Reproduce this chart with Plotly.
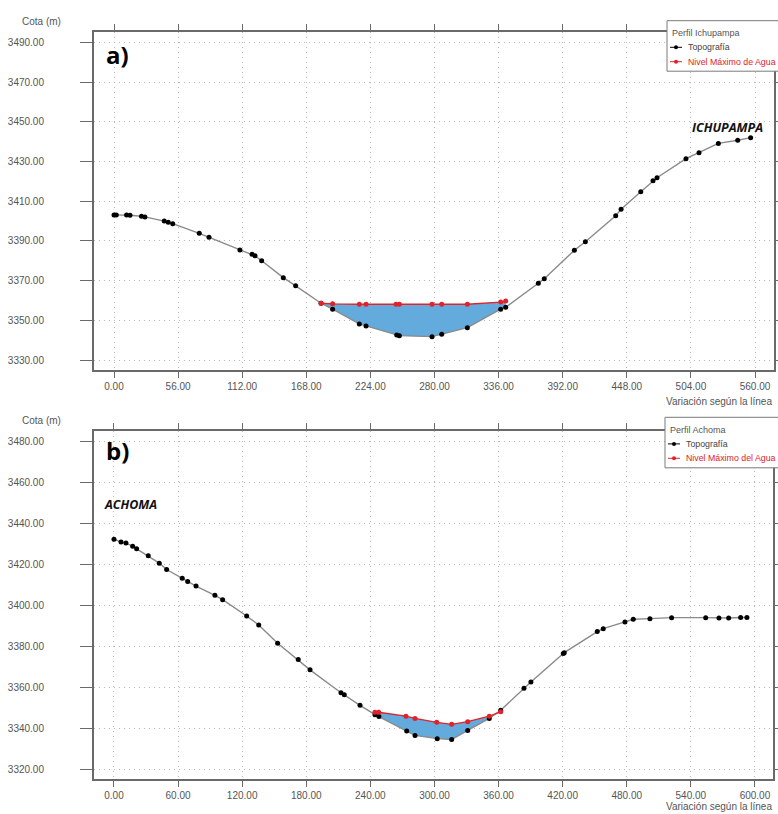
import numpy as np
import plotly.graph_objects as go

# ---------------- DATA ----------------
# Panel a) Perfil Ichupampa
topo_a_x = [0, 2, 11, 14, 24, 27, 43.9, 47.4, 51.3, 74.5, 83, 110, 120.6, 123.2, 129,
            147.9, 158.7, 180.9, 191, 214.3, 220.2, 247, 249.3, 277.8, 286.3, 308.7,
            337.8, 342.2, 370.7, 375.9, 402.2, 411.8, 438.3, 443, 460.2, 470.9, 474.4,
            499.7, 511.1, 528, 544.9, 556.2]
topo_a_y = [3403.1, 3403.1, 3403.0, 3402.9, 3402.4, 3402.1, 3400.0, 3399.4, 3398.7, 3393.8,
            3391.8, 3385.4, 3383.3, 3382.5, 3380.0, 3371.5, 3367.4, 3358.6, 3355.6, 3348.2,
            3347.2, 3342.6, 3342.3, 3341.8, 3343.0, 3346.3, 3355.6, 3356.6, 3368.7, 3371.0,
            3385.3, 3389.6, 3402.7, 3405.9, 3414.8, 3420.3, 3421.8, 3431.4, 3434.4, 3439.1,
            3440.7, 3442.0]
water_a_x = [180.9, 191, 214.3, 220.2, 246.4, 249.3, 277.8, 286.3, 308.7, 337.8, 342.2]
water_a_y = [3358.6, 3358.3, 3358.1, 3358.1, 3358.1, 3358.1, 3358.1, 3358.1, 3358.1, 3359.2, 3359.7]

# Panel b) Perfil Achoma
topo_b_x = [0, 6.6, 11.2, 17.5, 21.2, 32.1, 42.4, 49.3, 63.9, 69, 76.8, 94.5, 101.7, 124.2,
            135.5, 153.2, 172.5, 183.5, 212.5, 215.6, 230.3, 244.3, 248, 274, 281.8, 302.6,
            316.1, 331.1, 351.3, 362, 383.8, 390.3, 420.6, 421.5, 452.4, 458, 478.3, 486.1,
            501.7, 522, 553.9, 566.3, 575.4, 586.6, 592.5]
topo_b_y = [3432.4, 3431.0, 3430.5, 3429.0, 3427.7, 3424.3, 3420.7, 3417.6, 3413.4, 3411.8,
            3409.5, 3405.0, 3402.9, 3394.9, 3390.5, 3381.6, 3373.6, 3368.6, 3357.4, 3356.4,
            3351.3, 3346.7, 3345.8, 3338.7, 3336.6, 3335.0, 3334.6, 3339.0, 3344.9, 3348.9,
            3359.6, 3362.7, 3376.6, 3377.0, 3387.3, 3388.7, 3392.0, 3393.3, 3393.6, 3394.1,
            3394.1, 3393.9, 3393.9, 3394.2, 3394.2]
water_b_x = [244.3, 247.8, 273.3, 281.8, 302.1, 316.1, 331.1, 351.3, 362]
water_b_y = [3347.9, 3347.9, 3346.0, 3344.9, 3343.0, 3342.0, 3343.3, 3346.0, 3348.1]

xticks_a = [0, 56, 112, 168, 224, 280, 336, 392, 448, 504, 560]
yticks_a = [3330, 3350, 3370, 3390, 3410, 3430, 3450, 3470, 3490]
xticks_b = [0, 60, 120, 180, 240, 300, 360, 420, 480, 540, 600]
yticks_b = [3320, 3340, 3360, 3380, 3400, 3420, 3440, 3460, 3480]

legend_a = ["Perfil Ichupampa", "Topografía", "Nivel Máximo de Agua"]
legend_b = ["Perfil Achoma", "Topografía", "Nivel Máximo del Agua"]

W, H = 778, 814

def px(x):
    return x / W

def py(y):
    return 1 - y / H

fig = go.Figure()

TOPO_LINE = "#8a8a8a"
RED = "#e0222a"
WATER = "#64abdd"
FONT = "Liberation Sans, Arial, sans-serif"

def add_panel(tx, ty, wx, wy, xa, ya, names):
    bed = list(np.interp(wx, tx, ty))
    fig.add_trace(go.Scatter(
        x=list(wx) + list(wx)[::-1], y=list(wy) + bed[::-1],
        fill="toself", fillcolor=WATER, mode="lines", line=dict(width=0),
        showlegend=False, hoverinfo="skip", xaxis=xa, yaxis=ya))
    fig.add_trace(go.Scatter(
        x=tx, y=ty, mode="lines+markers", name=names[1], showlegend=False,
        line=dict(color=TOPO_LINE, width=1.4),
        marker=dict(color="black", size=5, symbol="circle"),
        xaxis=xa, yaxis=ya))
    fig.add_trace(go.Scatter(
        x=wx, y=wy, mode="lines+markers", name=names[2], showlegend=False,
        line=dict(color=RED, width=1.3),
        marker=dict(color=RED, size=5, symbol="circle"),
        xaxis=xa, yaxis=ya))

add_panel(topo_a_x, topo_a_y, water_a_x, water_a_y, "x", "y", legend_a)
add_panel(topo_b_x, topo_b_y, water_b_x, water_b_y, "x2", "y2", legend_b)

tickfont = dict(family=FONT, size=10, color="#555")
grid = dict(showgrid=True, gridcolor="#b8b8b8", griddash="1px,4px", gridwidth=1)
common_x = dict(showline=True, linecolor="#6a6a6a", linewidth=2, mirror="ticks",
                ticks="outside", ticklen=6, tickcolor="#6a6a6a", tickwidth=1,
                zeroline=False, tickfont=tickfont, ticklabelstandoff=0, **grid)
common_y = dict(showline=True, linecolor="#6a6a6a", linewidth=2, mirror="ticks",
                ticks="outside", ticklen=12, tickcolor="#6a6a6a", tickwidth=1,
                zeroline=False, tickfont=tickfont, ticklabelstandoff=34, **grid)

fig.update_layout(
    xaxis=dict(domain=[px(94), px(774)], anchor="y", range=[-17.47, 576.6],
               tickvals=xticks_a, ticktext=["%.2f" % v for v in xticks_a], **common_x),
    yaxis=dict(domain=[py(370), py(32)], anchor="x", range=[3325.0, 3495.2],
               tickvals=yticks_a, ticktext=["%.2f" % v for v in yticks_a], **common_y),
    xaxis2=dict(domain=[px(94), px(773)], anchor="y2", range=[-18.7, 616.9],
                tickvals=xticks_b, ticktext=["%.2f" % v for v in xticks_b], **common_x),
    yaxis2=dict(domain=[py(779), py(430.7)], anchor="x2", range=[3315.3, 3485.4],
                tickvals=yticks_b, ticktext=["%.2f" % v for v in yticks_b], **common_y),
)

shapes = []
annots = []

def legend_box(left, top, names):
    # box (white, grey border) - runs past the right edge like the reference
    shapes.append(dict(type="rect", xref="paper", yref="paper",
                       x0=px(left), x1=px(left + 140), y0=py(top + 50.5), y1=py(top),
                       fillcolor="white", line=dict(color="#7a7a7a", width=1), layer="above"))
    annots.append(dict(text=names[0], x=px(left + 3), y=py(top + 12.6), xanchor="left",
                       font=dict(family=FONT, size=9, color="#555")))
    for i, (nm, col, lcol) in enumerate([(names[1], "#444", "black"), (names[2], RED, RED)]):
        yy = top + 26.6 + 14.4 * i
        shapes.append(dict(type="line", xref="paper", yref="paper",
                           x0=px(left + 3), x1=px(left + 15), y0=py(yy), y1=py(yy),
                           line=dict(color=lcol, width=1), layer="above"))
        shapes.append(dict(type="circle", xref="paper", yref="paper",
                           x0=px(left + 7), x1=px(left + 11), y0=py(yy + 2), y1=py(yy - 2),
                           fillcolor=lcol, line=dict(color=lcol, width=0), layer="above"))
        annots.append(dict(text=nm, x=px(left + 19), y=py(yy), xanchor="left",
                           font=dict(family=FONT, size=8.8, color=col)))

legend_box(667, 20.7, legend_a)
legend_box(665, 417.3, legend_b)

lab_font = dict(family=FONT, size=10, color="#555")
annots += [
    dict(text="Cota (m)", x=px(41), y=py(21), font=lab_font),
    dict(text="Cota (m)", x=px(41), y=py(420), font=lab_font),
    dict(text="Variación según la línea", x=px(719), y=py(402), font=lab_font),
    dict(text="Variación según la línea", x=px(719), y=py(806), font=lab_font),
    dict(text="<b>a)</b>", x=px(104), y=py(54), xanchor="left",
         font=dict(family="Open Sans, sans-serif", size=24, color="black")),
    dict(text="<b>b)</b>", x=px(104), y=py(450), xanchor="left",
         font=dict(family="Open Sans, sans-serif", size=24, color="black")),
    dict(text="<b><i>ICHUPAMPA</i></b>", x=px(727), y=py(127),
         font=dict(family="Open Sans, sans-serif", size=12.5, color="#111")),
    dict(text="<b><i>ACHOMA</i></b>", x=px(130), y=py(504),
         font=dict(family="Open Sans, sans-serif", size=12.5, color="#111")),
]
for a in annots:
    a.setdefault("xanchor", "center")
    a.update(xref="paper", yref="paper", showarrow=False, yanchor="middle")

fig.update_layout(
    annotations=annots, shapes=shapes,
    width=W, height=H,
    margin=dict(l=0, r=0, t=0, b=0, autoexpand=False),
    paper_bgcolor="white", plot_bgcolor="white",
    showlegend=False,
)

fig.write_html(
    "out.html",
    config={"displayModeBar": False},
    post_script="document.body.style.margin='0';document.body.style.overflow='hidden';"
                "document.documentElement.style.overflow='hidden';",
)
